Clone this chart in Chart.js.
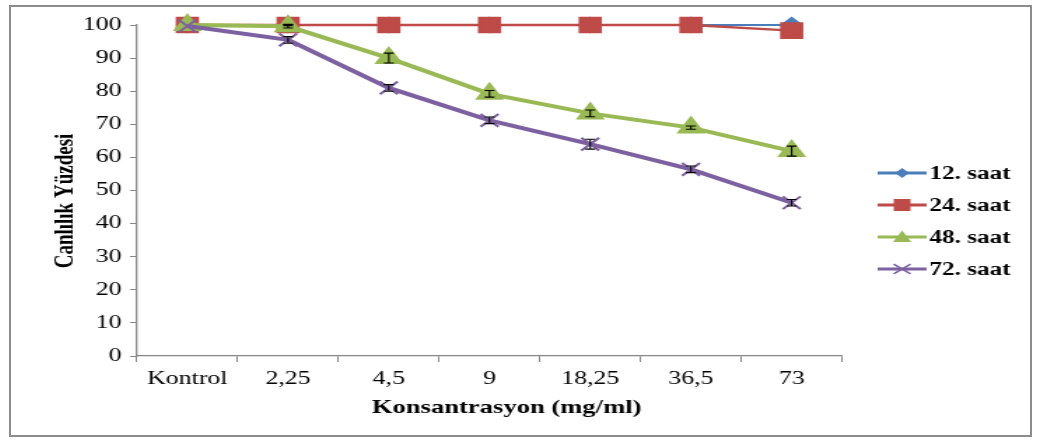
<!DOCTYPE html>
<html>
<head>
<meta charset="utf-8">
<script src="https://cdn.jsdelivr.net/npm/chart.js@4"></script>
<style>
  html, body { margin: 0; padding: 0; background: #fff; }
  #frame { position: absolute; left: 9px; top: 5px; width: 1019px; height: 428px; border: 2px solid #8c8c8c; overflow: hidden; }
  #stretch { width: 728px; height: 428px; transform: scaleX(1.4); transform-origin: 0 0; }
</style>
</head>
<body>
<div id="frame"><div id="stretch"><canvas id="chart"></canvas></div></div>
<script>
var categories = ['Kontrol', '2,25', '4,5', '9', '18,25', '36,5', '73'];
var seriesNames = ['12. saat', '24. saat', '48. saat', '72. saat'];
var s12 = [100, 100, 100, 100, 100, 100, 100];
var s24 = [100, 100, 100, 100, 100, 100, 98.3];
var s48 = [100, 99.6, 90.0, 79.2, 73.3, 69.0, 61.9];
var s72 = [99.7, 95.5, 81.0, 71.2, 64.0, 56.4, 46.3];
var e24 = [0, 0.2, 0, 0, 0, 0, 0];
var e48 = [0, 0.5, 1.5, 1.0, 1.0, 0.5, 1.5];
var e72 = [0, 1.0, 1.0, 1.0, 1.5, 1.0, 1.0];
var xTitle = 'Konsantrasyon (mg/ml)';
var yTitle = 'Canlılık Yüzdesi';

var colors = ['#4a7ebb', '#be4b48', '#98b954', '#7d60a0'];
var styles = ['rectRot', 'rect', 'triangle', 'crossRot'];
var serif = 'Liberation Serif';

function mark(ctx, style, x, y, r, color) {
  ctx.save();
  ctx.fillStyle = color;
  ctx.strokeStyle = color;
  ctx.beginPath();
  if (style === 'rectRot') {
    ctx.moveTo(x, y - r); ctx.lineTo(x + r, y); ctx.lineTo(x, y + r); ctx.lineTo(x - r, y);
    ctx.closePath(); ctx.fill();
  } else if (style === 'rect') {
    ctx.rect(x - r, y - r, 2 * r, 2 * r); ctx.fill();
  } else if (style === 'triangle') {
    ctx.moveTo(x, y - r); ctx.lineTo(x + r, y + r * 0.75); ctx.lineTo(x - r, y + r * 0.75);
    ctx.closePath(); ctx.fill();
  } else {
    ctx.lineWidth = 1.5;
    ctx.moveTo(x - r, y - r * 0.8); ctx.lineTo(x + r, y + r * 0.8);
    ctx.moveTo(x + r, y - r * 0.8); ctx.lineTo(x - r, y + r * 0.8);
    ctx.stroke();
  }
  ctx.restore();
}

var errorBars = {
  id: 'errorBars',
  afterDatasetsDraw: function (chart) {
    var ctx = chart.ctx;
    var y = chart.scales.y;
    ctx.save();
    ctx.strokeStyle = '#000';
    ctx.lineWidth = 1.1;
    chart.data.datasets.forEach(function (ds, i) {
      if (!ds.errors) return;
      var meta = chart.getDatasetMeta(i);
      ds.errors.forEach(function (e, j) {
        if (!e) return;
        var px = meta.data[j].x;
        var top = y.getPixelForValue(ds.data[j] + e);
        var bot = y.getPixelForValue(ds.data[j] - e);
        ctx.beginPath();
        ctx.moveTo(px, top); ctx.lineTo(px, bot);
        ctx.moveTo(px - 3.5, top); ctx.lineTo(px + 3.5, top);
        ctx.moveTo(px - 3.5, bot); ctx.lineTo(px + 3.5, bot);
        ctx.stroke();
      });
    });
    ctx.restore();
  }
};

// legend on the right and the two axis titles, placed like the original
var extras = {
  id: 'extras',
  afterDraw: function (chart) {
    var ctx = chart.ctx;
    var rows = [166, 198, 230, 262];
    var sizes = [5, 6, 6.5, 6];
    ctx.save();
    seriesNames.forEach(function (name, i) {
      ctx.strokeStyle = colors[i];
      ctx.lineWidth = 3;
      ctx.beginPath();
      ctx.moveTo(619, rows[i]); ctx.lineTo(654, rows[i]);
      ctx.stroke();
      mark(ctx, styles[i], 636.5, rows[i], sizes[i], colors[i]);
      ctx.fillStyle = '#000';
      ctx.font = 'bold 18px "' + serif + '"';
      ctx.textBaseline = 'middle';
      ctx.textAlign = 'left';
      ctx.fillText(name, 656, rows[i] + 1);
    });

    ctx.fillStyle = '#000';
    ctx.font = 'bold 19px "' + serif + '"';
    ctx.textAlign = 'center';
    ctx.textBaseline = 'middle';
    ctx.fillText(xTitle, 354, 401);

    ctx.translate(39, 194);
    ctx.rotate(-Math.PI / 2);
    ctx.fillText(yTitle, 0, 0);
    ctx.restore();
  }
};

new Chart(document.getElementById('chart'), {
  type: 'line',
  data: {
    labels: categories,
    datasets: [
      { label: seriesNames[0], data: s12, borderColor: colors[0], backgroundColor: colors[0],
        borderWidth: 2, pointStyle: 'rectRot', pointRadius: 7, order: 4 },
      { label: seriesNames[1], data: s24, errors: e24, borderColor: colors[1], backgroundColor: colors[1],
        borderWidth: 2.5, pointStyle: 'rect', pointRadius: 10, order: 3 },
      { label: seriesNames[2], data: s48, errors: e48, borderColor: colors[2], backgroundColor: colors[2],
        borderWidth: 4, pointStyle: 'triangle', pointRadius: 8, order: 2 },
      { label: seriesNames[3], data: s72, errors: e72, borderColor: colors[3], backgroundColor: colors[3],
        borderWidth: 4, pointStyle: 'crossRot', pointRadius: 9, pointBorderWidth: 2, order: 1 }
    ]
  },
  options: {
    responsive: true,
    maintainAspectRatio: false,
    animation: false,
    layout: { padding: { top: 18, right: 134.4, bottom: 0, left: 0 } },
    elements: { line: { tension: 0 } },
    datasets: { line: { clip: false } },
    plugins: {
      legend: { display: false },
      tooltip: { enabled: false }
    },
    scales: {
      x: {
        offset: true,
        grid: { offset: true, drawOnChartArea: false, tickLength: 6, color: '#868686' },
        border: { color: '#868686', width: 1.3 },
        ticks: { color: '#000', padding: 6, font: { family: serif, size: 18.5 } },
        afterFit: function (s) { s.height = 79; }
      },
      y: {
        min: 0,
        max: 100,
        ticks: { stepSize: 10, color: '#000', padding: 6, font: { family: serif, size: 18.5 } },
        grid: { drawOnChartArea: false, tickLength: 5, color: '#868686' },
        border: { color: '#868686', width: 1.3 },
        afterFit: function (s) { s.width = 90; }
      }
    }
  },
  plugins: [errorBars, extras]
});
</script>
</body>
</html>
